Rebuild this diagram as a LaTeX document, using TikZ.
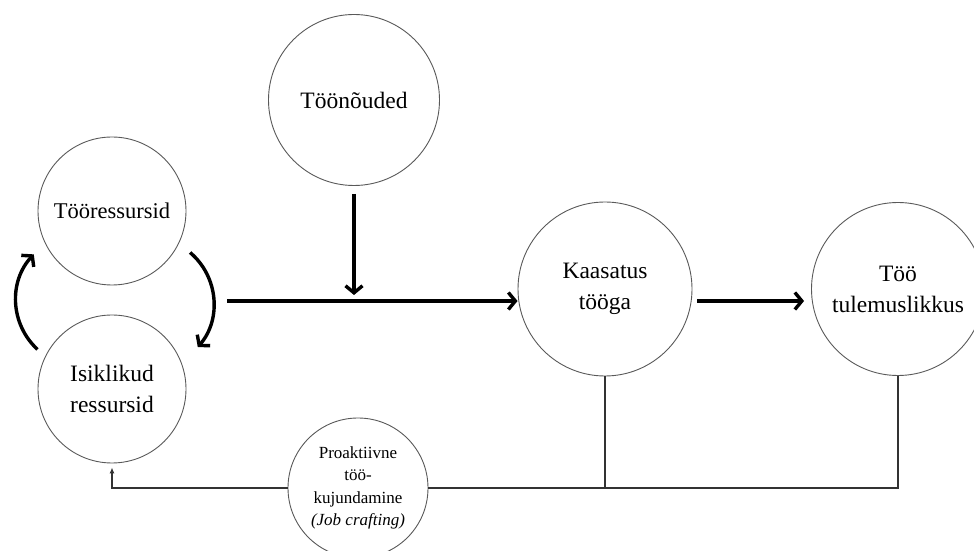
\documentclass[tikz,border=0pt]{standalone}
\usepackage{fontspec}
\setmainfont{Liberation Serif}
\usetikzlibrary{positioning, arrows.meta, calc}

\begin{document}
\begin{tikzpicture}[
    x=1pt, y=1pt,
    ring/.style={circle, draw=black!65, line width=0.9pt, inner sep=0pt, align=center,
                 font=\fontsize{23.5}{31}\selectfont},
    smallring/.style={ring, font=\fontsize{17}{22.5}\selectfont},
    flow/.style={-{Straight Barb[length=7pt, width=17pt]}, line width=3.4pt},
    loop/.style={flow},
    link/.style={line width=1.4pt, draw=black!80}
]
\useasboundingbox (0,0) rectangle (974,551);

%%%%%%%%%%%%%%%%%%%%%%%%%%%%%%%%%%%%%%%%%%%%%%%%%%%%%%%%%%%%%%%%%%%
% Resources (Left)
%%%%%%%%%%%%%%%%%%%%%%%%%%%%%%%%%%%%%%%%%%%%%%%%%%%%%%%%%%%%%%%%%%%
\node[ring, minimum size=148pt, font=\fontsize{22.5}{31}\selectfont] (jobres) at (112, 340) {Tööressursid};
\node[ring, minimum size=148pt] (persres) at (112, 162) {Isiklikud\\ressursid};

%%%%%%%%%%%%%%%%%%%%%%%%%%%%%%%%%%%%%%%%%%%%%%%%%%%%%%%%%%%%%%%%%%%
% Demands, Engagement, Performance
%%%%%%%%%%%%%%%%%%%%%%%%%%%%%%%%%%%%%%%%%%%%%%%%%%%%%%%%%%%%%%%%%%%
\node[ring, minimum size=171pt] (demands) at (354, 451) {Töönõuded};
\node[ring, minimum size=174pt] (engage) at (605, 262) {Kaasatus\\tööga};
\node[ring, minimum size=173pt] (perform) at (898, 262) {Töö\\tulemuslikkus};

%%%%%%%%%%%%%%%%%%%%%%%%%%%%%%%%%%%%%%%%%%%%%%%%%%%%%%%%%%%%%%%%%%%
% Job crafting (Bottom)
%%%%%%%%%%%%%%%%%%%%%%%%%%%%%%%%%%%%%%%%%%%%%%%%%%%%%%%%%%%%%%%%%%%
\node[smallring, minimum size=140pt] (crafting) at (358, 63)
    {Proaktiivne\\töö-\\kujundamine\\\textit{(Job crafting)}};

%%%%%%%%%%%%%%%%%%%%%%%%%%%%%%%%%%%%%%%%%%%%%%%%%%%%%%%%%%%%%%%%%%%
% Connections - Main flow
%%%%%%%%%%%%%%%%%%%%%%%%%%%%%%%%%%%%%%%%%%%%%%%%%%%%%%%%%%%%%%%%%%%
\coordinate (flowin) at (227, 250);
\draw[flow] (flowin) -- (flowin -| engage.west);
\draw[flow, shorten >=6pt] ([yshift=-8pt]demands.south) -- (demands.south |- flowin);
\draw[flow] ([xshift=5pt, yshift=-12pt]engage.east) -- ([xshift=-7pt, yshift=-12pt]perform.west);

%%%%%%%%%%%%%%%%%%%%%%%%%%%%%%%%%%%%%%%%%%%%%%%%%%%%%%%%%%%%%%%%%%%
% Connections - Resource loop
%%%%%%%%%%%%%%%%%%%%%%%%%%%%%%%%%%%%%%%%%%%%%%%%%%%%%%%%%%%%%%%%%%%
\draw[loop] ([shift={(-28:14pt)}]jobres.-28) to[bend left=45] ([shift={(26:21pt)}]persres.26);
\draw[loop] ([shift={(152:10pt)}]persres.152) to[bend left=45] ([shift={(209:15pt)}]jobres.209);

%%%%%%%%%%%%%%%%%%%%%%%%%%%%%%%%%%%%%%%%%%%%%%%%%%%%%%%%%%%%%%%%%%%
% Connections - Feedback
%%%%%%%%%%%%%%%%%%%%%%%%%%%%%%%%%%%%%%%%%%%%%%%%%%%%%%%%%%%%%%%%%%%
\draw[link] (engage.south) |- (crafting.east);
\draw[link] (perform.south) |- (crafting.east);
\draw[link, -{Latex[length=6pt, width=5pt]}, shorten >=4pt] (crafting.west) -| (persres.south);

\end{tikzpicture}
\end{document}
